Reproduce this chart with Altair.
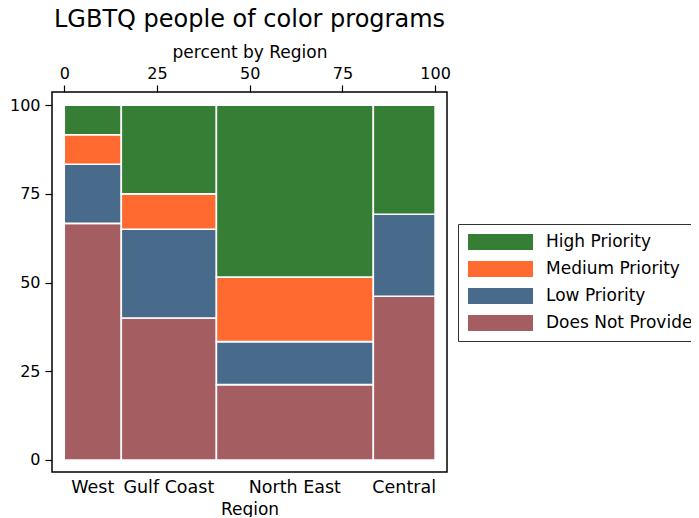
import altair as alt
import pandas as pd

regions = ["West", "Gulf Coast", "North East", "Central"]
levels = ["Does Not Provide", "Low Priority", "Medium Priority", "High Priority"]
legend_order = ["High Priority", "Medium Priority", "Low Priority", "Does Not Provide"]
colors = ["#367e35", "#fe6a2f", "#486b8b", "#a45e62"]

west = [8, 2, 1, 1]
gulf_coast = [8, 5, 2, 5]
north_east = [7, 4, 6, 16]
central = [6, 3, 0, 4]

counts = [west, gulf_coast, north_east, central]
total = sum(sum(c) for c in counts)

rows = []
labels = []
x0 = 0.0
for reg, c in zip(regions, counts):
    n = sum(c)
    w = 100.0 * n / total
    y0 = 0.0
    for lev, v in zip(levels, c):
        h = 100.0 * v / n
        if v > 0:
            rows.append({"region": reg, "level": lev, "x0": x0, "x1": x0 + w,
                         "y0": y0, "y1": y0 + h})
        y0 += h
    labels.append({"region": reg, "mid": x0 + w / 2})
    x0 += w

df = pd.DataFrame(rows)
lab = pd.DataFrame(labels)

FONT = "DejaVu Sans"
W, H = 395, 380

xscale = alt.Scale(domain=[-3.3, 103.2], nice=False, zero=False)
yscale = alt.Scale(domain=[-3.4, 103.7], nice=False, zero=False)

rects = alt.Chart(df).mark_rect(stroke="white", strokeWidth=1.6).encode(
    x=alt.X("x0:Q", scale=xscale,
            axis=alt.Axis(orient="top", values=[0, 25, 50, 75, 100], title="percent by Region",
                          grid=False, domain=False, tickSize=7, tickColor="black",
                          tickWidth=1.2, labelPadding=4, titlePadding=4, labelFontSize=16,
                          titleFontSize=17, titleFontWeight="normal")),
    x2="x1:Q",
    y=alt.Y("y0:Q", scale=yscale,
            axis=alt.Axis(orient="left", values=[0, 25, 50, 75, 100], title=None,
                          grid=False, domain=False, tickSize=7, tickColor="black",
                          tickWidth=1.2, labelPadding=5, labelFontSize=16)),
    y2="y1:Q",
    fill=alt.Fill("level:N", scale=alt.Scale(domain=legend_order, range=colors),
                  legend=alt.Legend(orient="none", legendX=406, legendY=132, title=None,
                                    padding=10, strokeColor="#333333", fillColor="white",
                                    symbolType="M-1,-0.246H1V0.246H-1Z", symbolSize=4225,
                                    symbolStrokeWidth=0, symbolOpacity=1, clipHeight=16,
                                    rowPadding=10, labelFontSize=17, labelOffset=13,
                                    labelLimit=400, labelColor="black", labelFont=FONT)),
)

texts = alt.Chart(lab).mark_text(fontSize=17.5, font=FONT, baseline="alphabetic",
                                 align="center", color="black").encode(
    x=alt.X("mid:Q", scale=xscale,
            axis=alt.Axis(orient="bottom", title="Region", labels=False, ticks=False,
                          domain=False, grid=False, titlePadding=29, titleFontSize=17,
                          titleFontWeight="normal")),
    y=alt.value(401),
    text="region:N",
)

chart = alt.layer(rects, texts).resolve_axis(x="independent").properties(
    width=W, height=H,
    autosize=alt.AutoSizeParams(type="none"),
    padding={"left": 44, "top": 84, "right": 244, "bottom": 45},
    title=alt.TitleParams("LGBTQ people of color programs", fontSize=24, font=FONT,
                          fontWeight="normal", color="black", anchor="middle",
                          baseline="alphabetic", offset=-8),
).configure_view(stroke="black", strokeWidth=1.5).configure_axis(
    labelFont=FONT, titleFont=FONT, labelColor="black", titleColor="black"
)

chart.save("out.html", embed_options={"renderer": "svg", "actions": False})
